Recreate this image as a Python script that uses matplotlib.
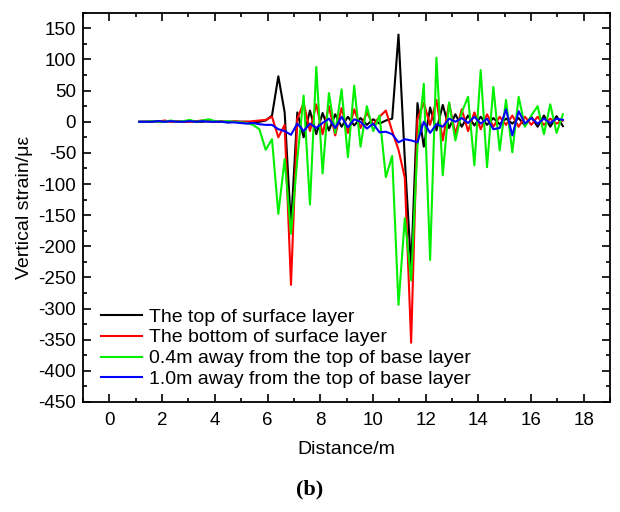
import matplotlib.pyplot as plt
import numpy as np

plt.rcParams['font.family'] = ['Liberation Sans', 'DejaVu Sans']
plt.rcParams['axes.unicode_minus'] = False

distance = [1.13, 1.37, 1.61, 1.85, 2.09, 2.33, 2.57, 2.81, 3.05, 3.29,
            3.53, 3.77, 4.01, 4.25, 4.49, 4.73, 4.97, 5.21, 5.45, 5.69,
            5.93, 6.17, 6.41, 6.65, 6.89, 7.13, 7.37, 7.61, 7.85, 8.09,
            8.33, 8.57, 8.81, 9.05, 9.29, 9.53, 9.77, 10.01, 10.25, 10.49,
            10.73, 10.97, 11.21, 11.45, 11.69, 11.93, 12.17, 12.41, 12.65, 12.89,
            13.13, 13.37, 13.61, 13.85, 14.09, 14.33, 14.57, 14.81, 15.05, 15.29,
            15.53, 15.77, 16.01, 16.25, 16.49, 16.73, 16.97, 17.21]

top_surface = [0, 0, 0, 1, 0, 1, 0, 0, 1, 0,
               0, 1, 0, 0, -1, 0, 0, 0, -1, 0,
               2, 10, 73, 15, -168, 15, -25, 18, -20, 14,
               -14, 12, -8, 8, -6, 6, -5, 4, -3, 2,
               5, 140, -60, -235, 30, -40, 23, -14, 27, -10,
               12, -8, 10, -6, 8, -5, 6, -4, 5, -3,
               6, -6, 8, -8, 10, -8, 9, -7]

bottom_surface = [0, 0, 1, 0, 2, 0, 1, 0, 0, 1,
                  2, 1, 0, 1, 0, 1, 0, 0, 1, 2,
                  3, 8, -25, -5, -262, 5, 30, -15, 28, -20,
                  25, -22, 22, -18, 20, -10, 15, -5, 8, 18,
                  -15, -45, -90, -355, 5, 30, -5, 35, -30, 30,
                  -20, 20, -15, 15, -12, 12, -8, 8, -5, 10,
                  -8, 8, -5, 8, -5, 5, -3, 2]

base_04 = [0, 0, 1, 0, 0, 2, 0, 1, 3, 0,
           2, 4, 1, 0, 1, 0, -1, -2, -5, -12,
           -45, -28, -148, -60, -180, -60, 42, -133, 88, -83,
           46, -18, 52, -57, 58, -40, 25, -15, 10, -89,
           -55, -294, -155, -255, -40, 61, -222, 103, -86, 31,
           -30, 15, 40, -70, 83, -73, 56, -46, 35, -49,
           40, -8, 10, 25, -20, 28, -18, 12]

base_10 = [0, 0, 0, 1, 0, 1, 0, 0, 1, 0,
           1, 0, 0, 0, -1, -1, -2, -3, -2, -4,
           -5, -5, -12, -15, -21, -3, -15, -3, -10, -2,
           5, -10, 8, -9, 4, 0, -11, -3, -17, -16,
           -20, -33, -28, -30, -33, 0, -18, -4, -8, 5,
           0, 6, -2, 8, -3, 5, -12, -10, 20, -22,
           17, -3, 6, -3, 5, -2, 5, 3]

labels = ["The top of surface layer", "The bottom of surface layer",
          "0.4m away from the top of base layer", "1.0m away from the top of base layer"]
colors = ["black", "#ff0000", "#00f000", "#0000ff"]

fig = plt.figure(figsize=(6.2, 5.12), dpi=100)
ax = fig.add_axes([0.134, 0.215, 0.85, 0.76])

for ys, lab, c in zip([top_surface, bottom_surface, base_04, base_10], labels, colors):
    ax.plot(distance, ys, color=c, lw=1.5, label=lab)

ax.set_xlim(-1, 19)
ax.set_ylim(-450, 175)
ax.set_xticks(np.arange(0, 19, 2))
ax.set_xticks(np.arange(-1, 19.5, 1), minor=True)
ax.set_yticks(np.arange(-450, 151, 50))
ax.set_yticks(np.arange(-450, 176, 25), minor=True)
ax.tick_params(which='both', direction='in', top=True, right=True, labelsize=13.5, width=1.2)
ax.tick_params(axis='x', which='both', pad=7)
ax.tick_params(axis='y', which='both', pad=5)
ax.tick_params(which='major', length=6)
ax.tick_params(which='minor', length=3)
for s in ax.spines.values():
    s.set_linewidth(1.3)

ax.set_xlabel("Distance/m", fontsize=14, labelpad=9)
ax.set_ylabel("Vertical strain/με", fontsize=14, labelpad=4)

ax.legend(loc='lower left', bbox_to_anchor=(0.02, 0.015), frameon=False, fontsize=14,
          handlelength=2.1, handletextpad=0.36, labelspacing=0.17, borderaxespad=0)

fig.text(0.5, 0.035, "(b)", ha='center', fontsize=16, fontweight='bold', family='Liberation Serif')

fig.savefig("out.png", dpi=100)
